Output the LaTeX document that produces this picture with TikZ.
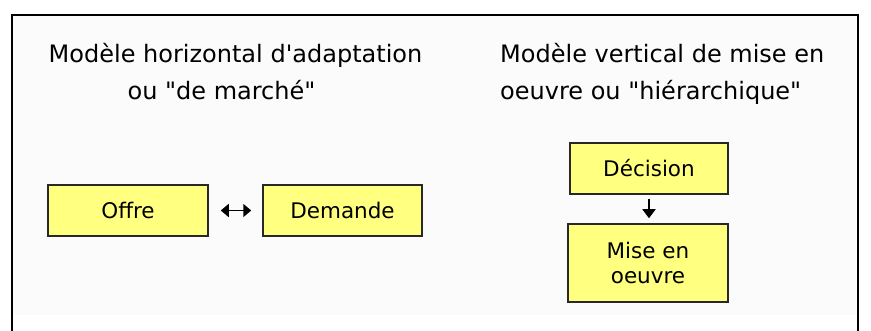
\documentclass[tikz,border=0pt]{standalone}
\usepackage{fontspec}
\setmainfont[Ligatures=TeXOff]{DejaVu Sans}
\usetikzlibrary{arrows.meta}
\definecolor{boxyellow}{RGB}{255,255,128}
\definecolor{boxline}{RGB}{40,40,40}
\definecolor{paneback}{RGB}{251,251,251}
\begin{document}
\begin{tikzpicture}[x=1pt,y=-1pt,
  title/.style={inner sep=0pt,anchor=base,font=\fontsize{24}{29}\selectfont},
  ybox/.style={draw=boxline,line width=1.5pt,fill=boxyellow,inner sep=0pt,
    font=\fontsize{21.5}{25}\selectfont,align=center},
  conn/.style={line width=1.5pt,-{Triangle[length=9pt,width=13pt]}},
  biconn/.style={line width=1.5pt,{Triangle[length=8pt,width=13pt]}-{Triangle[length=8pt,width=13pt]}}]
\useasboundingbox (0,0) rectangle (871,331);
% background and frame
\fill[paneback] (13,16) rectangle (856,315);
\draw[line width=2.5pt] (12,331) -- (12,15) -- (858,15) -- (858,331);
% titles
\node[title] (t1a) at (235.5,63) {Modèle horizontal d'adaptation};
\node[title] (t1b) at (221.5,100) {ou "de marché"};
\node[title,anchor=base west] (t2a) at (500,63) {Modèle vertical de mise en};
\node[title,anchor=base west] (t2b) at (500,100) {oeuvre ou "hiérarchique"};
% boxes
\node[ybox,minimum width=160pt,minimum height=51pt] (offre) at (128,210.5) {Offre};
\node[ybox,minimum width=159pt,minimum height=51pt] (demande) at (342.5,210.5) {Demande};
\node[ybox,minimum width=158pt,minimum height=51pt] (decision) at (649,168.5) {Décision};
\node[ybox,minimum width=160pt,minimum height=78pt] (mise) at (648,263) {Mise en\\oeuvre};
% connectors
\draw[biconn,shorten <=12pt,shorten >=11pt] (offre) -- (demande);
\draw[conn,shorten <=4pt,shorten >=5pt] (decision.south) -- (decision.south |- mise.north);
\end{tikzpicture}
\end{document}
